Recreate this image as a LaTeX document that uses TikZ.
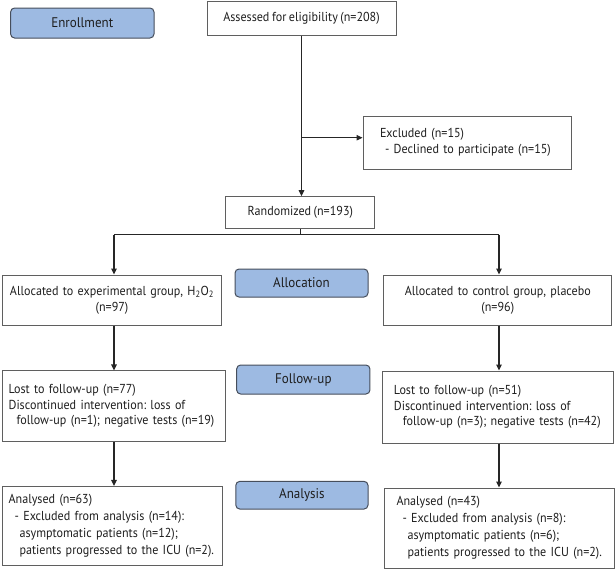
\documentclass[tikz,border=0pt]{standalone}
\usepackage{fontspec}
\setmainfont{PT Sans}[FakeStretch=0.93, WordSpace=0.8]
\frenchspacing
\usetikzlibrary{arrows.meta}
\definecolor{lblfill}{RGB}{157,186,226}
\definecolor{lbldraw}{RGB}{70,78,92}
\definecolor{boxdraw}{RGB}{95,95,95}
\definecolor{txt}{RGB}{30,30,30}
\tikzset{
  box/.style={draw=boxdraw, line width=1pt, fill=white, inner ysep=0pt, text=txt,
    font=\fontsize{13}{16}\selectfont},
  cbox/.style={box, align=center},
  lbox/.style={box, align=left},
  lbl/.style={draw=lbldraw, fill=lblfill, rounded corners=4pt, line width=1pt,
    inner sep=0pt, text=txt, font=\fontsize{14}{15}\selectfont},
  conn/.style={line width=1.1pt, draw=black!85, -{Triangle[length=6pt,width=5.5pt]}},
  plain/.style={line width=1.1pt, draw=black!85},
}
\begin{document}
\begin{tikzpicture}[x=1pt,y=1pt]
\useasboundingbox (0,0) rectangle (615,-570);

\node[lbl, minimum width=143.4pt, minimum height=30pt] (enr) at (82.3,-23) {Enrollment};
\node[cbox, minimum width=189pt, minimum height=34pt] (ass) at (301.5,-18) {Assessed for eligibility (n=208)};
\node[lbox, inner xsep=17pt, text width=174pt, minimum height=53pt] (excl) at (467,-142.5)
  {Excluded (n=15)\\\hspace*{5pt}- Declined to participate (n=15)};
\node[cbox, minimum width=149.3pt, minimum height=31.8pt] (rand) at (300.3,-212.6) {Randomized (n=193)};

\node[lbl, minimum width=133pt, minimum height=28pt] (alloc) at (301.5,-283) {Allocation};
\node[cbox, text width=212pt, minimum height=50pt] (la) at (112,-300)
  {Allocated to experimental group, H\textsubscript{2}O\textsubscript{2}\\(n=97)};
\node[cbox, text width=221pt, minimum height=50pt] (ra) at (497.8,-300)
  {Allocated to control group, placebo\\(n=96)};

\node[lbl, minimum width=133.3pt, minimum height=29pt] (fu) at (303.3,-379.5) {Follow-up};
\node[lbox, inner xsep=6.6pt, text width=209.8pt, minimum height=70.5pt,
  font=\fontsize{13}{15.5}\selectfont] (ll) at (113.5,-406.2)
  {Lost to follow-up (n=77)\\Discontinued intervention: loss of\\\hspace*{8pt}follow-up (n=1); negative tests (n=19)};
\node[lbox, inner xsep=11.5pt, text width=208.5pt, minimum height=72pt,
  font=\fontsize{13}{15.5}\selectfont] (rl) at (498.2,-407)
  {Lost to follow-up (n=51)\\Discontinued intervention: loss of\\\hspace*{9pt}follow-up (n=3); negative tests (n=42)};

\node[lbl, minimum width=132.2pt, minimum height=27.7pt] (an) at (301.9,-495.2) {Analysis};
\node[lbox, inner xsep=6.6pt, text width=206.8pt, minimum height=79.5pt,
  font=\fontsize{13}{17}\selectfont] (lan) at (112,-526.2)
  {Analysed (n=63)\\\hspace*{6pt}- Excluded from analysis (n=14):\\\hspace*{11pt}asymptomatic patients (n=12);\\\hspace*{11pt}patients progressed to the ICU (n=2).};
\node[lbox, inner xsep=12pt, text width=206pt, minimum height=80pt,
  font=\fontsize{13}{17}\selectfont] (ran) at (499.5,-528)
  {Analysed (n=43)\\\hspace*{6pt}- Excluded from analysis (n=8):\\\hspace*{11pt}asymptomatic patients (n=6);\\\hspace*{11pt}patients progressed to the ICU (n=2).};

% connectors
\draw[conn] (ass.south) -- (rand.north -| ass.south);
\coordinate (br) at (302,-137.7);
\draw[conn] (br) -- (br -| excl.west);
\coordinate (hl) at (114,-234.7);
\coordinate (hr) at (499,-234.7);
\draw[plain] (rand.south) -- (rand.south |- hl);
\draw[plain] (hl) -- (hr);
\draw[conn] (hl) -- (hl |- la.north);
\draw[conn] (hr) -- (hr |- ra.north);
\draw[conn] (hl |- la.south) -- (hl |- ll.north);
\draw[conn] (hr |- ra.south) -- (hr |- rl.north);
\draw[conn] (hl |- ll.south) -- (hl |- lan.north);
\draw[conn] (hr |- rl.south) -- (hr |- ran.north);
\end{tikzpicture}
\end{document}
